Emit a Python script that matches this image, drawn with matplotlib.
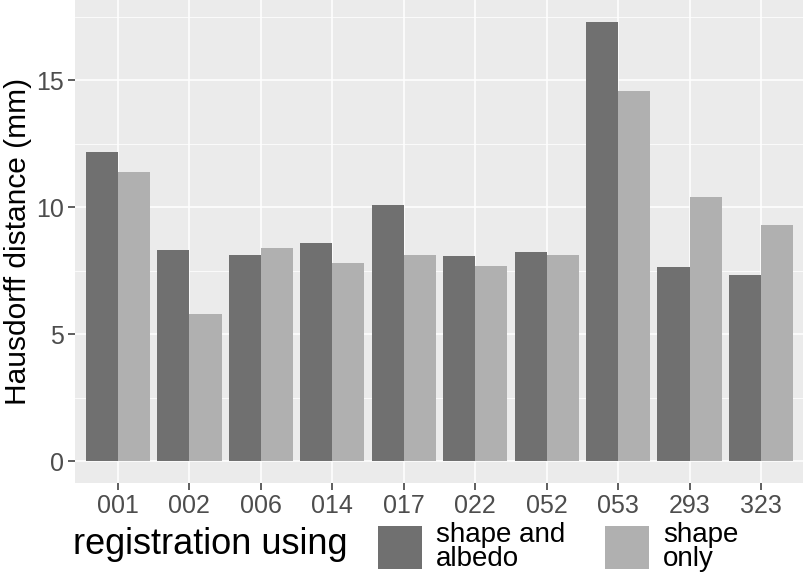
import numpy as np
import matplotlib.pyplot as plt
from matplotlib.patches import Rectangle

plt.rcParams['font.family'] = ['Liberation Sans', 'DejaVu Sans']

# data
subjects = ['001', '002', '006', '014', '017', '022', '052', '053', '293', '323']
shape_albedo = [12.18, 8.31, 8.10, 8.60, 10.08, 8.06, 8.23, 17.30, 7.65, 7.33]
shape_only = [11.38, 5.79, 8.40, 7.80, 8.10, 7.69, 8.11, 14.57, 10.42, 9.30]
series_labels = ['shape and\nalbedo', 'shape\nonly']
series_colors = ['#707070', '#b0b0b0']

W, H = 804, 575
fig = plt.figure(figsize=(W / 100, H / 100), dpi=100)
ax = fig.add_axes([75 / W, 1 - 483 / H, 729 / W, 483 / H])
ax.set_facecolor('#ebebeb')

x = np.arange(1, len(subjects) + 1)
bw = 0.45
ax.bar(x - bw / 2, shape_albedo, width=bw, color=series_colors[0], zorder=3)
ax.bar(x + bw / 2, shape_only, width=bw, color=series_colors[1], zorder=3)

# ggplot-like scales
ymax = max(max(shape_albedo), max(shape_only))
ax.set_ylim(-0.05 * ymax, 1.05 * ymax)
ax.set_xlim(0.4, len(subjects) + 0.6)
ax.set_xticks(x)
ax.set_xticklabels(subjects)
ax.set_yticks([0, 5, 10, 15])
ax.set_yticks([2.5, 7.5, 12.5, 17.5], minor=True)
ax.grid(which='major', color='white', linewidth=1.1, zorder=0)
ax.grid(which='minor', axis='y', color='white', linewidth=0.55, zorder=0)
ax.set_axisbelow(True)
for s in ax.spines.values():
    s.set_visible(False)
ax.tick_params(axis='both', which='major', length=5, width=1.1, color='#333333',
               labelcolor='#4d4d4d', labelsize=18, pad=3)
ax.tick_params(axis='both', which='minor', length=0)
ax.set_ylabel('Hausdorff distance (mm)', fontsize=21.5, labelpad=3)

# legend along the bottom
fig.text(73 / W, 1 - 545 / H, 'registration using', fontsize=26, va='center', ha='left')
key_x = [378, 605]
for kx, col, lab in zip(key_x, series_colors, series_labels):
    fig.add_artist(Rectangle((kx / W, 1 - 569 / H), 44 / W, 43 / H,
                             transform=fig.transFigure, facecolor=col, edgecolor='none'))
    fig.text((kx + 58) / W, 1 - 547 / H, lab, fontsize=20, va='center', ha='left',
             linespacing=0.85)

fig.savefig('out.png', dpi=100)
